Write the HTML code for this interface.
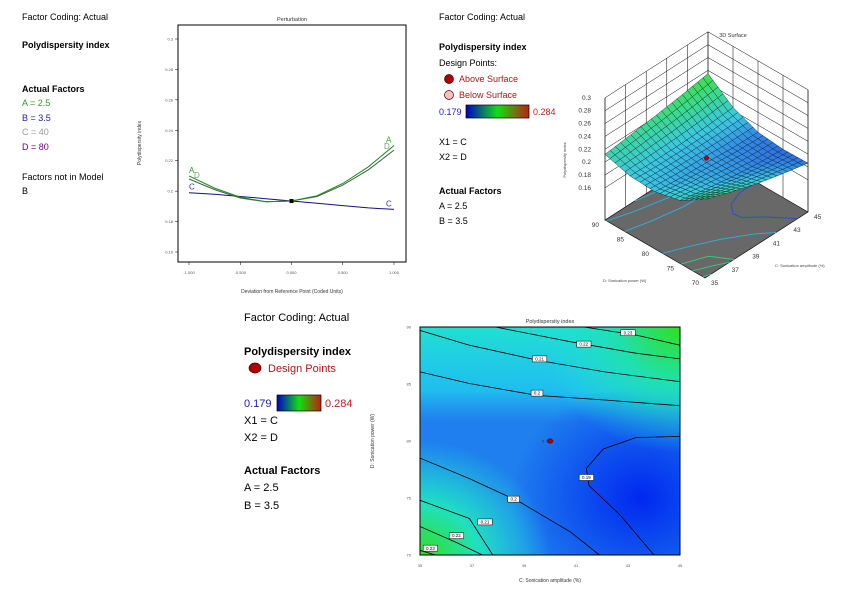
<!DOCTYPE html>
<html><head><meta charset="utf-8"><style>
html,body{margin:0;padding:0;background:#fff;width:847px;height:608px;overflow:hidden}
svg{display:block;font-family:"Liberation Sans",sans-serif}
</style></head><body>
<svg id="s" width="847" height="608" viewBox="0 0 847 608">
<defs>
<linearGradient id="leg" x1="0" x2="1" y1="0" y2="0"><stop offset="0" stop-color="#0000c8"/><stop offset="0.5" stop-color="#10e010"/><stop offset="1" stop-color="#c02010"/></linearGradient>
<radialGradient id="gBR" cx="0.85" cy="0.75" r="0.5"><stop offset="0" stop-color="#0028f0"/><stop offset="1" stop-color="#0028f0" stop-opacity="0"/></radialGradient>
<radialGradient id="gTR" cx="1" cy="0" r="0.55"><stop offset="0" stop-color="#30e020"/><stop offset="0.45" stop-color="#20e0b0"/><stop offset="1" stop-color="#20e0e0" stop-opacity="0"/></radialGradient>
<radialGradient id="gBL" cx="0" cy="1" r="0.5"><stop offset="0" stop-color="#30e020"/><stop offset="0.45" stop-color="#20e0c0"/><stop offset="1" stop-color="#20e0e0" stop-opacity="0"/></radialGradient>
<linearGradient id="gT" x1="0" x2="0" y1="0" y2="1"><stop offset="0" stop-color="#20e0d0"/><stop offset="0.28" stop-color="#20d8f0" stop-opacity="0.7"/><stop offset="0.42" stop-color="#20c0f0" stop-opacity="0"/></linearGradient>
<clipPath id="cc"><rect x="420" y="327" width="260" height="228"/></clipPath>
</defs>

<g font-size="9" fill="#000">
<text x="22" y="20">Factor Coding: Actual</text>
<text x="22" y="48" font-weight="bold">Polydispersity index</text>
<text x="22" y="92" font-weight="bold">Actual Factors</text>
<text x="22" y="106" fill="#2a9a2a">A = 2.5</text>
<text x="22" y="121" fill="#2020b0">B = 3.5</text>
<text x="22" y="135" fill="#999">C = 40</text>
<text x="22" y="150" fill="#700070">D = 80</text>
<text x="22" y="180">Factors not in Model</text>
<text x="22" y="194">B</text>
</g>

<g font-size="9" fill="#000">
<text x="439" y="20">Factor Coding: Actual</text>
<text x="439" y="50" font-weight="bold">Polydispersity index</text>
<text x="439" y="66">Design Points:</text>
<circle cx="449" cy="79" r="4.5" fill="#b00000" stroke="#400" stroke-width="0.7"/>
<text x="459" y="82" fill="#b01818">Above Surface</text>
<circle cx="449" cy="95" r="4.5" fill="#f8c0c0" stroke="#400" stroke-width="0.7"/>
<text x="459" y="98" fill="#b01818">Below Surface</text>
<text x="439" y="115" fill="#2020c0">0.179</text>
<rect x="466" y="105" width="63" height="13" fill="url(#leg)" stroke="#000" stroke-width="0.7"/>
<text x="533" y="115" fill="#c02020">0.284</text>
<text x="439" y="145">X1 = C</text>
<text x="439" y="160">X2 = D</text>
<text x="439" y="194" font-weight="bold">Actual Factors</text>
<text x="439" y="209">A = 2.5</text>
<text x="439" y="224">B = 3.5</text>
</g>

<g font-size="11" fill="#000">
<text x="244" y="321">Factor Coding: Actual</text>
<text x="244" y="355" font-weight="bold">Polydispersity index</text>
<ellipse cx="255" cy="368" rx="6" ry="5" fill="#b00000" stroke="#400" stroke-width="0.7"/>
<text x="268" y="372" fill="#b01818">Design Points</text>
<text x="244" y="407" fill="#2020c0">0.179</text>
<rect x="277" y="395" width="44" height="16" fill="url(#leg)" stroke="#000" stroke-width="0.7"/>
<text x="325" y="407" fill="#c02020">0.284</text>
<text x="244" y="424">X1 = C</text>
<text x="244" y="441">X2 = D</text>
<text x="244" y="474" font-weight="bold">Actual Factors</text>
<text x="244" y="491">A = 2.5</text>
<text x="244" y="509">B = 3.5</text>
</g>

<g id="pert"></g>
<g id="surf"></g>
<g id="cont"></g>
</svg>
<script>
// ---------- Perturbation data ----------
const pertX = [-1, -0.75, -0.5, -0.25, 0, 0.25, 0.5, 0.75, 1];
const pertA = [0.210, 0.202, 0.196, 0.193, 0.1935, 0.197, 0.205, 0.216, 0.230];
const pertD = [0.208, 0.201, 0.1955, 0.193, 0.1935, 0.1965, 0.204, 0.214, 0.227];
const pertC = [0.199, 0.198, 0.1965, 0.195, 0.1935, 0.192, 0.1905, 0.189, 0.188];
const pertYTicks = [0.16, 0.18, 0.2, 0.22, 0.24, 0.26, 0.28, 0.3];
const pertXTicks = [-1, -0.5, 0, 0.5, 1];
const pertXLabels = ["-1.000", "-0.500", "0.000", "0.500", "1.000"];

// ---------- Contour data (C amplitude, D power) ----------
const contLevels = ["0.23", "0.22", "0.21", "0.2", "0.2", "0.21", "0.22", "0.23", "0.19"];
const contC = [
  [41.3, 43.3, 45],
  [37.9, 40.8, 43.3, 45],
  [35, 36.9, 39.5, 42.1, 45],
  [35, 36.9, 39.5, 42.1, 45],
  [35, 36.9, 38.8, 40.8, 41.9],
  [35, 36.9, 37.8],
  [35, 36.4, 37.4],
  [35, 35.6],
  [45, 43.3, 42.05, 41.4, 41.5, 42.7, 44.0]
];
const contD = [
  [90, 89.3, 88.4],
  [90, 88.7, 87.7, 87.2],
  [89.7, 88.4, 87.1, 86.06, 85.2],
  [86.06, 85.04, 84.0, 83.6, 83.1],
  [78.5, 76.7, 74.7, 72.0, 70],
  [74.8, 73.2, 70],
  [72.5, 71.1, 70],
  [70.4, 70],
  [80.4, 80.3, 79.3, 77.6, 76.1, 73.5, 70.0]
];
const contLabelC = [43.0, 41.3, 39.6, 39.5, 38.6, 37.5, 36.4, 35.4, 41.4];
const contLabelD = [89.5, 88.5, 87.2, 84.2, 74.9, 72.9, 71.7, 70.6, 76.8];
const contXTicks = [35, 37, 39, 41, 43, 45];
const contYTicks = [70, 75, 80, 85, 90];

// ---------- 3D surface data ----------
const surfC = [35, 37.5, 40, 42.5, 45];
const surfD = [70, 75, 80, 85, 90];
const surfZ = [ // rows by D, columns by C
  [0.232, 0.218, 0.205, 0.195, 0.186],
  [0.208, 0.200, 0.193, 0.188, 0.185],
  [0.199, 0.195, 0.193, 0.190, 0.189],
  [0.201, 0.200, 0.200, 0.202, 0.205],
  [0.212, 0.217, 0.222, 0.228, 0.235]
];
const surfZTicks = [0.16, 0.18, 0.2, 0.22, 0.24, 0.26, 0.28, 0.3];
const surfCTicks = [35, 37, 39, 41, 43, 45];
const surfDTicks = [70, 75, 80, 85, 90];

const NS = "http://www.w3.org/2000/svg";
function mk(parent, tag, attrs, txt) {
  const e = document.createElementNS(NS, tag);
  for (const k in attrs) e.setAttribute(k, attrs[k]);
  if (txt !== undefined) e.textContent = txt;
  parent.appendChild(e);
  return e;
}

// ===== Perturbation =====
(function () {
  const g = document.getElementById('pert');
  const L = 178, R = 406, T = 25, B = 262;
  const px = v => 189 + (v + 1) / 2 * 205;
  const py = v => 39 + (0.3 - v) / 0.14 * 213;
  let t = mk(g, 'text', {x: 292, y: 21, 'font-size': 5.5, 'text-anchor': 'middle', fill: '#333'}, 'Perturbation');
  
  
  let r = mk(g, 'rect', {x: L, y: T, width: R - L, height: B - T, fill: 'none', stroke: '#000', 'stroke-width': 1});
  
  
  pertYTicks.forEach(v => {
    mk(g, 'line', {x1: L - 3, x2: L, y1: py(v), y2: py(v), stroke: '#000', 'stroke-width': 0.5});
    let tl = mk(g, 'text', {x: L - 5, y: py(v) + 1.5, 'font-size': 4, 'text-anchor': 'end', fill: '#555'}, String(v));
    
    
  });
  pertXTicks.forEach((v, i) => {
    mk(g, 'line', {x1: px(v), x2: px(v), y1: B, y2: B + 3, stroke: '#000', 'stroke-width': 0.5});
    let tl = mk(g, 'text', {x: px(v), y: 274, 'font-size': 4, 'text-anchor': 'middle', fill: '#555'}, pertXLabels[i]);
    
    
  });
  let xt = mk(g, 'text', {x: 292, y: 293, 'font-size': 5, 'text-anchor': 'middle', fill: '#333'}, 'Deviation from Reference Point (Coded Units)');
  
  
  let yt = mk(g, 'text', {x: 0, y: 0, 'font-size': 5, 'text-anchor': 'middle', fill: '#333', transform: 'translate(141,143) rotate(-90)'}, 'Polydispersity index');
  
  
  const series = [
    {d: pertC, c: '#101090', lab: 'C', lc: '#3030b0', n: 'series-c-line'},
    {d: pertD, c: '#406040', lab: 'D', lc: '#70a070', n: 'series-d-line'},
    {d: pertA, c: '#1a8a1a', lab: 'A', lc: '#30a030', n: 'series-a-line'}
  ];
  series.forEach(s => {
    const pts = pertX.map((x, i) => px(x).toFixed(1) + ',' + py(s.d[i]).toFixed(1)).join(' ');
    let pl = mk(g, 'polyline', {points: pts, fill: 'none', stroke: s.c, 'stroke-width': 1});
    
    
    const n = pertX.length - 1;
    let off = s.lab === 'D' ? 5 : 0;
    let l1 = mk(g, 'text', {x: px(pertX[0]) + off, y: py(s.d[0]) - 3 + (s.lab === 'D' ? 2 : 0), 'font-size': 8, fill: s.lc}, s.lab);
    
    
    let l2 = mk(g, 'text', {x: px(pertX[n]) - 8 - (s.lab === 'D' ? 2 : 0), y: py(s.d[n]) - 3 + (s.lab === 'D' ? 2 : 0), 'font-size': 8, fill: s.lc}, s.lab);
    
    
  });
  let ref = mk(g, 'rect', {x: px(0) - 2, y: py(pertA[4]) - 2, width: 4, height: 4, fill: '#000'});
  
  
})();

// ===== Contour =====
(function () {
  const g = document.getElementById('cont');
  const L = 420, R = 680, T = 327, B = 555;
  const px = c => L + (c - 35) / 10 * (R - L);
  const py = d => B - (d - 70) / 20 * (B - T);
  const bg = mk(g, 'g', {'clip-path': 'url(#cc)'});
  
  
  mk(bg, 'rect', {x: L, y: T, width: R - L, height: B - T, fill: '#1f7fee'});
  mk(bg, 'rect', {x: L, y: T, width: R - L, height: B - T, fill: 'url(#gT)'});
  mk(bg, 'rect', {x: L, y: T, width: R - L, height: B - T, fill: 'url(#gBR)'});
  mk(bg, 'rect', {x: L, y: T, width: R - L, height: B - T, fill: 'url(#gTR)'});
  mk(bg, 'rect', {x: L, y: T, width: R - L, height: B - T, fill: 'url(#gBL)'});
  contC.forEach((cs, i) => {
    const pts = cs.map((c, j) => px(c).toFixed(1) + ',' + py(contD[i][j]).toFixed(1));
    let p = mk(bg, 'polyline', {points: pts.join(' '), fill: 'none', stroke: '#000', 'stroke-width': 0.8});
    
    
  });
  contLevels.forEach((lv, i) => {
    const x = px(contLabelC[i]), y = py(contLabelD[i]);
    const w = lv.length * 2.6 + 4;
    let r = mk(bg, 'rect', {x: x - w / 2, y: y - 3, width: w, height: 6, fill: '#fff', stroke: '#000', 'stroke-width': 0.5});
    
    
    let t = mk(bg, 'text', {x: x, y: y + 1.6, 'font-size': 4.5, 'text-anchor': 'middle', fill: '#000'}, lv);
    
    
  });
  let fr = mk(g, 'rect', {x: L, y: T, width: R - L, height: B - T, fill: 'none', stroke: '#000', 'stroke-width': 1});
  
  
  let dp = mk(g, 'ellipse', {cx: px(40), cy: py(80), rx: 3, ry: 2.2, fill: '#b00000', stroke: '#300', 'stroke-width': 0.5});
  
  
  let dl = mk(g, 'text', {x: px(40) - 8, y: py(80) + 1.5, 'font-size': 4, fill: '#333'}, '6');
  
  
  contXTicks.forEach(v => {
    let t = mk(g, 'text', {x: px(v), y: B + 12, 'font-size': 4, 'text-anchor': 'middle', fill: '#555'}, String(v));
    
    
  });
  contYTicks.forEach(v => {
    let t = mk(g, 'text', {x: L - 9, y: py(v) + 1.5, 'font-size': 4, 'text-anchor': 'end', fill: '#555'}, String(v));
    
    
  });
  let tt = mk(g, 'text', {x: 550, y: 323, 'font-size': 5.5, 'text-anchor': 'middle', fill: '#333'}, 'Polydispersity index');
  
  
  let xt = mk(g, 'text', {x: 550, y: 582, 'font-size': 5, 'text-anchor': 'middle', fill: '#333'}, 'C: Sonication amplitude (%)');
  
  
  let yt = mk(g, 'text', {x: 0, y: 0, 'font-size': 5, 'text-anchor': 'middle', fill: '#333', transform: 'translate(374,441) rotate(-90)'}, 'D: Sonication power (W)');
  
  
})();

// ===== 3D surface =====
(function () {
  const g = document.getElementById('surf');
  const Z0 = 0.11, ZS = 643;
  function P(c, d, z) {
    const u = (c - 35) / 10, v = (90 - d) / 20;
    return [605 + u * 103 + v * 100, 220 - u * 66 + v * 58 - (z - Z0) * ZS];
  }
  const f = p => p[0].toFixed(1) + ',' + p[1].toFixed(1);
  function col(z) {
    let t = Math.max(0, Math.min(1, (z - 0.179) / 0.105));
    const st = [[0, [40, 70, 220]], [0.1, [50, 140, 230]], [0.2, [60, 200, 225]], [0.4, [60, 220, 130]], [0.55, [60, 225, 60]], [0.8, [170, 200, 30]], [1, [200, 40, 20]]];
    for (let i = 1; i < st.length; i++) if (t <= st[i][0]) {
      const a = st[i - 1], b = st[i], k = (t - a[0]) / (b[0] - a[0]);
      return 'rgb(' + a[1].map((x, j) => Math.round(x + (b[1][j] - x) * k)).join(',') + ')';
    }
    return 'rgb(200,40,20)';
  }
  let tt = mk(g, 'text', {x: 733, y: 37, 'font-size': 5.5, 'text-anchor': 'middle', fill: '#333'}, '3D Surface');
  
  
  let fl = mk(g, 'polygon', {points: [P(35, 90, Z0), P(45, 90, Z0), P(45, 70, Z0), P(35, 70, Z0)].map(f).join(' '), fill: '#686868', stroke: '#000', 'stroke-width': 0.6});
  
  
  const ZT = 0.3;
  const walls = mk(g, 'g', {stroke: '#000', 'stroke-width': 0.5, fill: 'none'});
  
  
  surfZTicks.forEach(z => {
    mk(walls, 'polyline', {points: [P(35, 90, z), P(45, 90, z), P(45, 70, z)].map(f).join(' ')});
  });
  surfCTicks.forEach(c => mk(walls, 'line', {x1: P(c, 90, Z0)[0], y1: P(c, 90, Z0)[1], x2: P(c, 90, ZT)[0], y2: P(c, 90, ZT)[1]}));
  surfDTicks.forEach(d => mk(walls, 'line', {x1: P(45, d, Z0)[0], y1: P(45, d, Z0)[1], x2: P(45, d, ZT)[0], y2: P(45, d, ZT)[1]}));
  mk(walls, 'line', {x1: P(35, 90, Z0)[0], y1: P(35, 90, Z0)[1], x2: P(35, 90, ZT)[0], y2: P(35, 90, ZT)[1]});
  mk(walls, 'line', {x1: P(45, 70, Z0)[0], y1: P(45, 70, Z0)[1], x2: P(45, 70, ZT)[0], y2: P(45, 70, ZT)[1]});
  const fc = mk(g, 'g', {fill: 'none', 'stroke-width': 0.9});
  
  
  contC.forEach((cs, i) => {
    const pts = cs.map((c, j) => f(P(c, contD[i][j], Z0))).join(' ');
    mk(fc, 'polyline', {points: pts, stroke: i === 8 ? '#2050d0' : (i >= 5 && i <= 7 ? '#30d080' : '#30b0e0')});
  });
  const SUB = 5;
  const quads = [];
  function zAt(ci, di, a, b) {
    const z00 = surfZ[di][ci], z10 = surfZ[di][ci + 1], z01 = surfZ[di + 1][ci], z11 = surfZ[di + 1][ci + 1];
    return z00 * (1 - a) * (1 - b) + z10 * a * (1 - b) + z01 * (1 - a) * b + z11 * a * b;
  }
  for (let di = 0; di < surfD.length - 1; di++) for (let ci = 0; ci < surfC.length - 1; ci++) {
    for (let sa = 0; sa < SUB; sa++) for (let sb = 0; sb < SUB; sb++) {
      const a0 = sa / SUB, a1 = (sa + 1) / SUB, b0 = sb / SUB, b1 = (sb + 1) / SUB;
      const cc = a => surfC[ci] + (surfC[ci + 1] - surfC[ci]) * a;
      const dd = b => surfD[di] + (surfD[di + 1] - surfD[di]) * b;
      const cr = [[a0, b0], [a1, b0], [a1, b1], [a0, b1]];
      const pts = cr.map(([a, b]) => P(cc(a), dd(b), zAt(ci, di, a, b)));
      const zm = zAt(ci, di, (a0 + a1) / 2, (b0 + b1) / 2);
      const cm = cc((a0 + a1) / 2), dm = dd((b0 + b1) / 2);
      quads.push({pts, zm, depth: (90 - dm) / 20 + (45 - cm) / 10});
    }
  }
  quads.sort((p, q) => p.depth - q.depth);
  const sg = mk(g, 'g', {});
  
  
  quads.forEach(q => {
    mk(sg, 'polygon', {points: q.pts.map(f).join(' '), fill: col(q.zm), stroke: '#0a2030', 'stroke-width': 0.4});
  });
  const dp = P(40, 80, 0.2);
  let dpe = mk(g, 'circle', {cx: dp[0], cy: dp[1], r: 2.3, fill: '#c00000', stroke: '#300', 'stroke-width': 0.4});
  
  
  surfZTicks.forEach(z => {
    const p = P(35, 90, z);
    let t = mk(g, 'text', {x: p[0] - 14, y: p[1] + 2, 'font-size': 6.5, 'text-anchor': 'end', fill: '#333'}, String(z));
    
    
  });
  surfDTicks.forEach(d => {
    const p = P(35, d, Z0);
    let t = mk(g, 'text', {x: p[0] - 6, y: p[1] + 7, 'font-size': 6.5, 'text-anchor': 'end', fill: '#333'}, String(d));
    
    
  });
  surfCTicks.forEach(c => {
    const p = P(c, 70, Z0);
    let t = mk(g, 'text', {x: p[0] + 6, y: p[1] + 7, 'font-size': 6.5, fill: '#333'}, String(c));
    
    
  });
  let xa = mk(g, 'text', {x: 775, y: 267, 'font-size': 4, fill: '#444'}, 'C: Sonication amplitude (%)');
  
  
  let ya = mk(g, 'text', {x: 603, y: 282, 'font-size': 4, fill: '#444'}, 'D: Sonication power (W)');
  
  
  let za = mk(g, 'text', {x: 0, y: 0, 'font-size': 4, 'text-anchor': 'middle', fill: '#444', transform: 'translate(566,160) rotate(-90)'}, 'Polydispersity index');
  
  
})();
</script>
</body></html>
